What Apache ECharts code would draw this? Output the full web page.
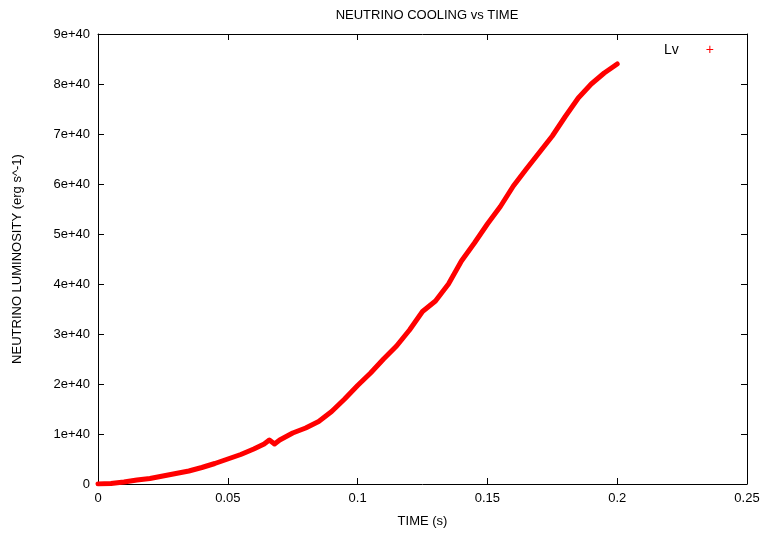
<!DOCTYPE html>
<html>
<head>
<meta charset="utf-8">
<script src="https://cdn.jsdelivr.net/npm/echarts@6/dist/echarts.min.js"></script>
<style>
  html, body { margin: 0; padding: 0; background: #fff; }
  #chart { width: 765px; height: 533px; }
</style>
</head>
<body>
<div id="chart"></div>
<script>
// Time samples (s)
const timeSec = [0, 0.005, 0.01, 0.015, 0.02, 0.025, 0.03, 0.035, 0.04, 0.045,
  0.05, 0.055, 0.06, 0.064, 0.066, 0.068, 0.07, 0.075, 0.08, 0.085,
  0.09, 0.095, 0.1, 0.105, 0.11, 0.115, 0.12, 0.125, 0.13, 0.135,
  0.14, 0.145, 0.15, 0.155, 0.16, 0.165, 0.17, 0.175, 0.18, 0.185,
  0.19, 0.195, 0.2];
// Neutrino luminosity in units of 1e40 erg/s
const lumE40 = [0.0, 0.01, 0.04, 0.08, 0.11, 0.16, 0.21, 0.26, 0.33, 0.41,
  0.50, 0.59, 0.70, 0.80, 0.88, 0.80, 0.88, 1.02, 1.12, 1.25,
  1.45, 1.70, 1.97, 2.22, 2.50, 2.76, 3.08, 3.45, 3.66, 4.00,
  4.46, 4.82, 5.20, 5.55, 5.96, 6.30, 6.63, 6.96, 7.35, 7.72,
  8.00, 8.22, 8.40];
const xTicks = [0, 0.05, 0.1, 0.15, 0.2, 0.25];
const yTickLabels = ['0', '1e+40', '2e+40', '3e+40', '4e+40', '5e+40', '6e+40', '7e+40', '8e+40', '9e+40'];

const seriesData = timeSec.map((t, i) => [t, lumE40[i]]);
const FONT = 'Liberation Sans, Arial, sans-serif';
const RED = '#ff0000';

const chart = echarts.init(document.getElementById('chart'), null, { renderer: 'canvas' });

// fresh style objects per axis so nothing is shared between them
const axisLineStyle = () => ({ show: true, onZero: false, lineStyle: { color: '#000', width: 1 } });
const tickInside = () => ({ show: true, inside: true, length: 6, lineStyle: { color: '#000', width: 1 } });

chart.setOption({
  animation: false,
  backgroundColor: '#fff',
  title: {
    text: 'NEUTRINO COOLING vs TIME',
    left: 422, top: 4, textAlign: 'center',
    textStyle: { fontFamily: FONT, fontSize: 13, fontWeight: 'normal', color: '#000' }
  },
  // key: label followed by a red "+" point marker
  legend: {
    data: [{ name: 'Lv', icon: 'none' }],
    left: 654, top: 38,
    itemWidth: 0, itemHeight: 9,
    formatter: name => `{t|${name}}{p|+}`,
    textStyle: {
      fontFamily: FONT, fontSize: 13, color: '#000',
      rich: {
        t: { fontFamily: FONT, fontSize: 14, color: '#000' },
        p: { fontFamily: FONT, fontSize: 14, color: RED, padding: [0, 0, 0, 27] }
      }
    }
  },
  grid: { left: 98, right: 18, top: 34, bottom: 48, containLabel: false },
  xAxis: [
    {
      type: 'value', position: 'bottom', min: 0, max: 0.25, interval: 0.05,
      name: 'TIME (s)', nameLocation: 'middle', nameGap: 31,
      nameTextStyle: { fontFamily: FONT, fontSize: 13, color: '#000' },
      axisLine: axisLineStyle(), axisTick: tickInside(), splitLine: { show: false },
      axisLabel: {
        fontFamily: FONT, fontSize: 13, color: '#000', margin: 8,
        formatter: v => { const m = xTicks.find(t => Math.abs(t - v) < 1e-9); return m === undefined ? '' : String(m); }
      }
    },
    {
      type: 'value', position: 'top', min: 0, max: 0.25, interval: 0.05,
      axisLine: axisLineStyle(), axisTick: tickInside(), axisLabel: { show: false }, splitLine: { show: false }
    }
  ],
  yAxis: [
    {
      type: 'value', position: 'left', min: 0, max: 9, interval: 1,
      name: 'NEUTRINO LUMINOSITY (erg s^-1)', nameLocation: 'middle', nameGap: 74,
      nameTextStyle: { fontFamily: FONT, fontSize: 13, color: '#000' },
      axisLine: axisLineStyle(), axisTick: tickInside(), splitLine: { show: false },
      axisLabel: {
        fontFamily: FONT, fontSize: 13, color: '#000', margin: 8,
        formatter: v => yTickLabels[Math.round(v)]
      }
    },
    {
      type: 'value', position: 'right', min: 0, max: 9, interval: 1,
      axisLine: axisLineStyle(), axisTick: tickInside(), axisLabel: { show: false }, splitLine: { show: false }
    }
  ],
  series: [
    {
      name: 'Lv',
      type: 'line',
      xAxisIndex: 0, yAxisIndex: 0,
      data: seriesData,
      showSymbol: false,
      color: RED,
      itemStyle: { color: RED },
      lineStyle: { color: RED, width: 5, join: 'round', cap: 'round' }
    },
    // empty series bound to the mirror axes so they are laid out and drawn
    { type: 'line', xAxisIndex: 1, yAxisIndex: 1, data: [], silent: true }
  ]
});
</script>
</body>
</html>
